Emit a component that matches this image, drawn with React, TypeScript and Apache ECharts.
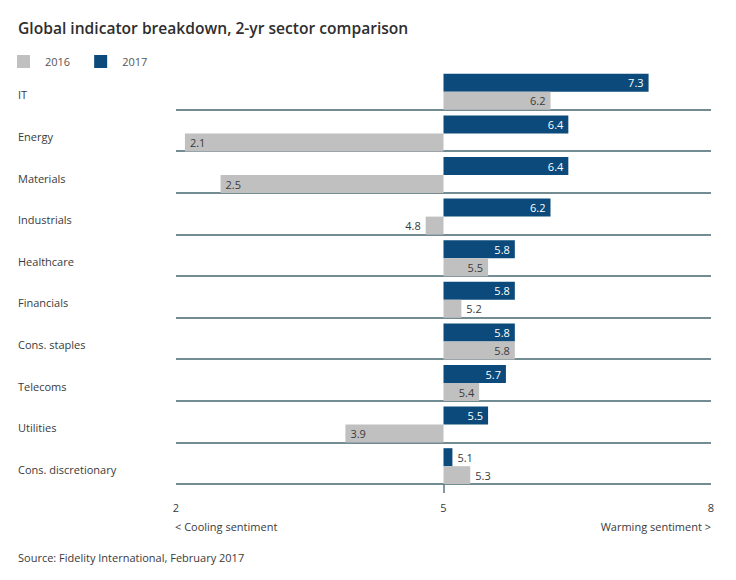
import React, { useEffect, useRef } from "react";
import * as echarts from "echarts";

const categories = [
  "IT",
  "Energy",
  "Materials",
  "Industrials",
  "Healthcare",
  "Financials",
  "Cons. staples",
  "Telecoms",
  "Utilities",
  "Cons. discretionary",
];
const values2017 = [7.3, 6.4, 6.4, 6.2, 5.8, 5.8, 5.8, 5.7, 5.5, 5.1];
const values2016 = [6.2, 2.1, 2.5, 4.8, 5.5, 5.2, 5.8, 5.4, 3.9, 5.3];
const baseline = 5;
const axisMin = 2;
const axisMax = 8;
const axisStep = 3;

const BLUE = "#0b4a7b";
const GRAY = "#c0c0c0";
const LINE = "#44646f";
const TEXT = "#3a3a3a";
const FONT = "'Open Sans', 'Noto Sans', sans-serif";

function labelFor(v: number, isBlue: boolean) {
  const d = v - baseline;
  let position: any;
  let color = TEXT;
  if (d >= 0.3) {
    position = "insideRight";
    color = isBlue ? "#ffffff" : TEXT;
  } else if (d >= 0) {
    position = "right";
  } else if (d <= -0.5) {
    position = "insideLeft";
  } else {
    position = "left";
  }
  return { show: true, position, color, distance: 5 };
}

export default function App() {
  const ref = useRef<HTMLDivElement>(null);
  useEffect(() => {
    if (!ref.current) return;
    const chart = echarts.init(ref.current, undefined, { renderer: "svg" });
    const mk = (vals: number[], isBlue: boolean) =>
      vals.map((v) => ({
        value: +(v - baseline).toFixed(2),
        label: labelFor(v, isBlue),
      }));
    chart.setOption({
      animation: false,
      backgroundColor: "#ffffff",
      textStyle: { fontFamily: FONT },
      graphic: [
        {
          type: "text",
          left: 18,
          top: 20,
          style: {
            text: "Global indicator breakdown, 2-yr sector comparison",
            font: `600 15.6px ${FONT}`,
            fill: "#2e2e2e",
          },
        },
        {
          type: "text",
          left: 175,
          top: 521,
          style: { text: "< Cooling sentiment", font: `11px ${FONT}`, fill: TEXT },
        },
        {
          type: "text",
          right: 25,
          top: 521,
          style: { text: "Warming sentiment >", font: `11px ${FONT}`, fill: TEXT },
        },
        {
          type: "text",
          left: 18,
          top: 552,
          style: {
            text: "Source: Fidelity International, February 2017",
            font: `11px ${FONT}`,
            fill: TEXT,
          },
        },
      ],
      legend: {
        left: 17,
        top: 55,
        padding: 0,
        itemWidth: 13,
        itemHeight: 13,
        itemGap: 24,
        icon: "rect",
        data: ["2016", "2017"],
        textStyle: { fontSize: 11, color: "#555", padding: [0, 0, 0, 10], fontFamily: FONT },
      },
      grid: { left: 176, right: 25, top: 68, bottom: 96 },
      xAxis: {
        type: "value",
        min: axisMin - baseline,
        max: axisMax - baseline,
        interval: axisStep,
        axisLine: { show: false },
        axisTick: {
          show: true,
          customValues: [0],
          length: 9,
          lineStyle: { color: "#5b7784", width: 1.5 },
        },
        axisLabel: {
          formatter: (v: number) => String(v + baseline),
          color: TEXT,
          fontSize: 11,
          margin: 18,
          fontFamily: FONT,
        },
        splitLine: {
          show: true,
          lineStyle: { color: ["rgba(0,0,0,0)", "#5b7784", "rgba(0,0,0,0)"], width: 1.5 },
        },
      },
      yAxis: {
        type: "category",
        data: categories,
        inverse: true,
        axisLine: { show: false, onZero: false },
        axisTick: { show: false },
        axisLabel: {
          align: "left",
          verticalAlign: "top",
          lineHeight: 12,
          margin: 158,
          color: TEXT,
          fontSize: 11,
          fontFamily: FONT,
        },
        splitLine: {
          show: true,
          showMinLine: false,
          lineStyle: { color: LINE, width: 1.5 },
        },
      },
      series: [
        {
          name: "_pad",
          type: "bar",
          barWidth: 6,
          barGap: "0%",
          silent: true,
          data: categories.map(() => null),
        },
        {
          name: "2017",
          type: "bar",
          barWidth: 18,
          barGap: "0%",
          itemStyle: { color: BLUE },
          label: {
            fontSize: 11,
            fontFamily: FONT,
            formatter: (p: any) => values2017[p.dataIndex].toFixed(1),
          },
          data: mk(values2017, true),
        },
        {
          name: "2016",
          type: "bar",
          barWidth: 18,
          barGap: "0%",
          itemStyle: { color: GRAY },
          label: {
            fontSize: 11,
            fontFamily: FONT,
            formatter: (p: any) => values2016[p.dataIndex].toFixed(1),
          },
          data: mk(values2016, false),
        },
      ],
    });
    return () => chart.dispose();
  }, []);
  return (
    <div
      ref={ref}
      style={{ position: "fixed", left: 0, top: 0, width: 736, height: 580 }}
    />
  );
}
